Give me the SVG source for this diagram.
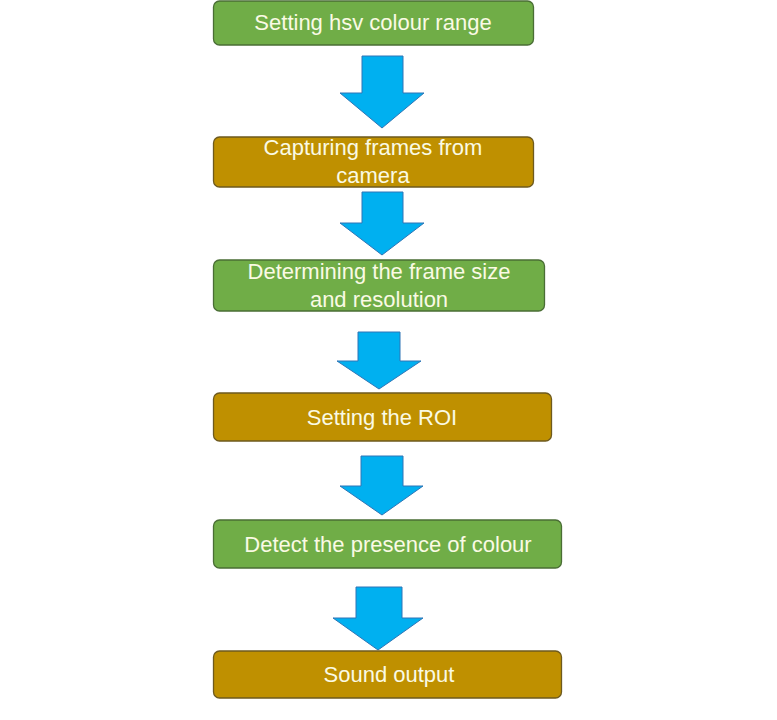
<svg xmlns="http://www.w3.org/2000/svg" width="777" height="720" viewBox="0 0 777 720">
<style>
.g{fill:#70AD47;stroke:#4A6E35;stroke-width:1.3}
.o{fill:#BF9000;stroke:#6E5A1E;stroke-width:1.3}
.t{font-family:"Liberation Sans",Arial,sans-serif;font-size:22px;fill:#FAFAE4;text-anchor:middle}
.a{fill:#00B0F0;stroke:#2E75B6;stroke-width:1}
</style>
<rect width="777" height="720" fill="#FFFFFF"/>
<g id="connectors">
<polygon class="a" points="362,56 403,56 403,93 424,93 382,128 340,93 362,93"/>
<polygon class="a" points="362,192 403,192 403,223 424,223 382,255 340,223 362,223"/>
<polygon class="a" points="358,332 400,332 400,361 421,361 379,389 337,361 358,361"/>
<polygon class="a" points="361,456 403,456 403,486 423,486 382,515 340,486 361,486"/>
<polygon class="a" points="356,587 402,587 402,618 423,618 378,650 333,618 356,618"/>
</g>
<g id="node1">
<rect class="g" x="213.5" y="1" width="320" height="44" rx="6"/>
<text class="t" x="373" y="30">Setting hsv colour range</text>
</g>
<g id="node2">
<rect class="o" x="213.5" y="137" width="320" height="50" rx="6"/>
<text class="t" x="373" y="155">Capturing frames from</text>
<text class="t" x="373" y="183">camera</text>
</g>
<g id="node3">
<rect class="g" x="213.5" y="260" width="331" height="51" rx="6"/>
<text class="t" x="379" y="279">Determining the frame size</text>
<text class="t" x="379" y="307">and resolution</text>
</g>
<g id="node4">
<rect class="o" x="213.5" y="393" width="338" height="48" rx="6"/>
<text class="t" x="382" y="425">Setting the ROI</text>
</g>
<g id="node5">
<rect class="g" x="213.5" y="520" width="348" height="48" rx="6"/>
<text class="t" x="388" y="552">Detect the presence of colour</text>
</g>
<g id="node6">
<rect class="o" x="213.5" y="651" width="348" height="47" rx="6"/>
<text class="t" x="389" y="682">Sound output</text>
</g>
</svg>
